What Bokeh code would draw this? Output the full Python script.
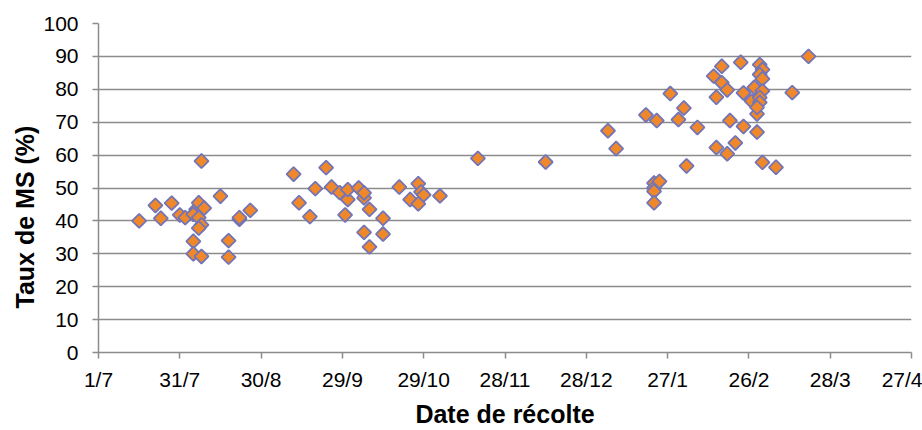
from datetime import date
import numpy as np
from bokeh.plotting import figure
from bokeh.models import ColumnDataSource, FixedTicker, Range1d, Title
from bokeh.embed import file_html
from bokeh.resources import INLINE

# Dates de récolte et taux de matière sèche (%)
dates_recolte = [
    "2013-07-16", "2013-07-22", "2013-07-24", "2013-07-28", "2013-07-31", "2013-08-02",
    "2013-08-06", "2013-08-07", "2013-08-09", "2013-08-05", "2013-08-07", "2013-08-08",
    "2013-08-07", "2013-08-05", "2013-08-05", "2013-08-08", "2013-08-08", "2013-08-15",
    "2013-08-18", "2013-08-18", "2013-08-22", "2013-08-22", "2013-08-26",
    "2013-09-11", "2013-09-13", "2013-09-17", "2013-09-19", "2013-09-23", "2013-09-25",
    "2013-09-28", "2013-09-30", "2013-10-01", "2013-10-01", "2013-10-05", "2013-10-07",
    "2013-10-07", "2013-10-07", "2013-10-09", "2013-10-09", "2013-10-14", "2013-10-14",
    "2013-10-20", "2013-10-24", "2013-10-27", "2013-10-28", "2013-10-27", "2013-10-29",
    "2013-11-04", "2013-11-18",
    "2013-12-13", "2014-01-05", "2014-01-08", "2014-01-19", "2014-01-23", "2014-01-22",
    "2014-01-22", "2014-01-22", "2014-01-22", "2014-01-24", "2014-01-28", "2014-01-31",
    "2014-02-02", "2014-02-03", "2014-02-07", "2014-02-13", "2014-02-14", "2014-02-14",
    "2014-02-16", "2014-02-16", "2014-02-18", "2014-02-19", "2014-02-18", "2014-02-21",
    "2014-02-23", "2014-02-24", "2014-02-24", "2014-02-27", "2014-02-28", "2014-03-01",
    "2014-03-01", "2014-03-02", "2014-03-03", "2014-03-02", "2014-03-03", "2014-03-03",
    "2014-03-02", "2014-03-02", "2014-03-01", "2014-03-03", "2014-03-08", "2014-03-14",
    "2014-03-20",
]
taux_ms = [
    40.0, 44.7, 40.8, 45.4, 41.8, 41.0,
    43.5, 45.5, 43.9, 42.0, 41.0, 38.8,
    37.8, 33.8, 30.0, 29.2, 58.2, 47.5,
    34.0, 29.0, 40.5, 41.0, 43.2,
    54.2, 45.5, 41.3, 49.8, 56.2, 50.3,
    48.6, 41.8, 46.5, 49.5, 50.0, 47.0,
    48.5, 36.5, 43.5, 32.1, 40.8, 36.0,
    50.3, 46.5, 51.3, 48.8, 45.2, 47.9,
    47.6, 59.0,
    57.9, 67.4, 62.0, 72.2, 70.5, 51.5,
    50.0, 49.0, 45.5, 52.0, 78.7, 70.8,
    74.3, 56.7, 68.4, 84.0, 77.6, 62.3,
    87.0, 82.0, 79.8, 70.5, 60.4, 63.7,
    88.2, 68.7, 78.9, 76.4, 80.6, 72.5,
    67.0, 87.5, 86.0, 84.5, 83.2, 79.5,
    77.5, 76.0, 74.5, 57.8, 56.3, 79.0,
    90.0,
]
tick_labels = ["1/7", "31/7", "30/8", "29/9", "29/10", "28/11", "28/12", "27/1", "26/2", "28/3", "27/4"]
y_ticks = [0, 10, 20, 30, 40, 50, 60, 70, 80, 90, 100]

origine = date(2013, 7, 1)
jours = [(date.fromisoformat(d) - origine).days for d in dates_recolte]
tick_pos = [30 * i for i in range(len(tick_labels))]

src = ColumnDataSource(dict(x=jours, y=taux_ms))

p = figure(width=922, height=430, output_backend="svg", toolbar_location=None,
           x_range=Range1d(0, 300), y_range=Range1d(0, 100),
           min_border_left=98, min_border_right=11, min_border_top=23, min_border_bottom=74)
p.outline_line_color = None
p.background_fill_color = "white"
p.border_fill_color = "white"

p.scatter("x", "y", source=src, marker="square", size=10, angle=np.pi / 4,
          fill_color="#F0882A", line_color="#7275B6", line_width=1.8)

FONT = "Liberation Sans"
GRAY = "#8C8C8C"

p.xaxis.ticker = FixedTicker(ticks=tick_pos)
p.xaxis.major_label_overrides = {t: l for t, l in zip(tick_pos, tick_labels)}
p.yaxis.ticker = FixedTicker(ticks=y_ticks)

for ax in (p.xaxis[0], p.yaxis[0]):
    ax.axis_line_color = GRAY
    ax.axis_line_width = 1.5
    ax.major_tick_line_color = GRAY
    ax.major_tick_line_width = 1.5
    ax.major_tick_out = 6
    ax.major_tick_in = 0
    ax.minor_tick_line_color = None
    ax.major_label_text_font = FONT
    ax.major_label_text_font_size = "21px"
    ax.major_label_text_color = "#000000"
    ax.axis_label_text_font = FONT
    ax.axis_label_text_font_size = "25px"
    ax.axis_label_text_font_style = "bold"
    ax.axis_label_text_color = "#000000"

p.xaxis.axis_label = "Date de récolte"
p.xaxis.major_label_standoff = 9
p.yaxis.major_label_standoff = 14
p.xaxis.axis_label_standoff = 6

# Titre de l'axe vertical, légèrement décentré vers le bas comme dans l'original
p.add_layout(Title(text="Taux de MS (%)", align="left", offset=44, standoff=4,
                   text_font=FONT, text_font_size="25px", text_font_style="bold",
                   text_color="#000000"), "left")

p.xgrid.grid_line_color = None
p.ygrid.grid_line_color = GRAY
p.ygrid.grid_line_width = 1.5

open("out.html", "w").write(file_html(p, INLINE))
